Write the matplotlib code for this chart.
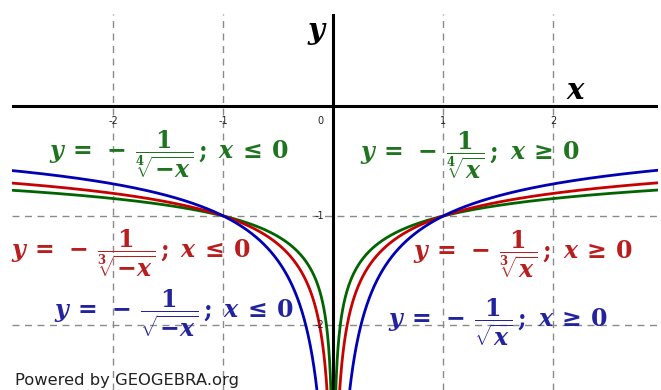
import numpy as np
import matplotlib
matplotlib.use("Agg")
import matplotlib.pyplot as plt

# root exponents and colours for y = -1 / x^(1/n)
roots = [4, 3, 2]
curve_colors = ["#006400", "#c80000", "#0000b4"]
text_colors = ["#1f751f", "#b81e1e", "#2323a0"]

# formula labels for left and right branches
labels_left = [
    r"$y\,=\,-\,\dfrac{1}{\sqrt[4]{-x}}\,;\;x\,\leq\,0$",
    r"$y\,=\,-\,\dfrac{1}{\sqrt[3]{-x}}\,;\;x\,\leq\,0$",
    r"$y\,=\,-\,\dfrac{1}{\sqrt{-x}}\,;\;x\,\leq\,0$",
]
labels_right = [
    r"$y\,=\,-\,\dfrac{1}{\sqrt[4]{x}}\,;\;x\,\geq\,0$",
    r"$y\,=\,-\,\dfrac{1}{\sqrt[3]{x}}\,;\;x\,\geq\,0$",
    r"$y\,=\,-\,\dfrac{1}{\sqrt{x}}\,;\;x\,\geq\,0$",
]
left_pos = [(-1.50, -0.435), (-1.84, -1.335), (-1.455, -1.89)]
right_pos = [(1.236, -0.44), (1.718, -1.35), (1.495, -1.97)]

x_ticks = [-2, -1, 1, 2]
y_ticks = [-1, -2]

plt.rcParams['mathtext.fontset'] = 'custom'
plt.rcParams['mathtext.rm'] = 'DejaVu Serif:bold'
plt.rcParams['mathtext.it'] = 'DejaVu Serif:italic:bold'
plt.rcParams['mathtext.bf'] = 'DejaVu Serif:bold'

fig = plt.figure(figsize=(6.61, 3.90), dpi=100)
ax = fig.add_axes([12 / 661, 0, 646 / 661, 376 / 390])
xmin, xmax = -2.92, 2.95
ymin, ymax = -2.59, 0.845
ax.set_xlim(xmin, xmax)
ax.set_ylim(ymin, ymax)
ax.axis("off")

for gx in x_ticks:
    ax.axvline(gx, color="#8a8a8a", lw=1, ls=(0, (5, 4)), zorder=1)
for gy in y_ticks:
    ax.axhline(gy, color="#8a8a8a", lw=1, ls=(0, (5, 4)), zorder=1)

ax.axhline(0, color="black", lw=2.2, zorder=2)
ax.axvline(0, color="black", lw=2.2, zorder=2)

xs = np.linspace(1e-5, 3.0, 3000)
for n, c in zip(roots, curve_colors):
    ys = -xs ** (-1.0 / n)
    ax.plot(xs, ys, color=c, lw=2, zorder=3)
    ax.plot(-xs, ys, color=c, lw=2, zorder=3)

for gx in x_ticks:
    ax.text(gx, -0.13, str(gx), ha="center", va="center", fontsize=7, color="#222222")
ax.text(-0.12, -0.13, "0", ha="center", va="center", fontsize=7, color="#222222")
for gy in y_ticks:
    ax.text(-0.08, gy, str(gy), ha="right", va="center", fontsize=7, color="#222222")

ax.text(-0.14, 0.67, r"$y$", ha="center", va="center", fontsize=21, color="black")
ax.text(2.21, 0.14, r"$x$", ha="center", va="center", fontsize=21, color="black")

for lab, (px, py), c in zip(labels_left, left_pos, text_colors):
    ax.text(px, py, lab, ha="center", va="center", fontsize=17, color=c, zorder=4)
for lab, (px, py), c in zip(labels_right, right_pos, text_colors):
    ax.text(px, py, lab, ha="center", va="center", fontsize=17, color=c, zorder=4)

fig.text(15 / 661, 1 - 380 / 390, "Powered by GEOGEBRA.org", ha="left", va="center",
         fontsize=11.8, color="#222222", family="DejaVu Sans")

fig.savefig("out.png", dpi=100, facecolor="white")
